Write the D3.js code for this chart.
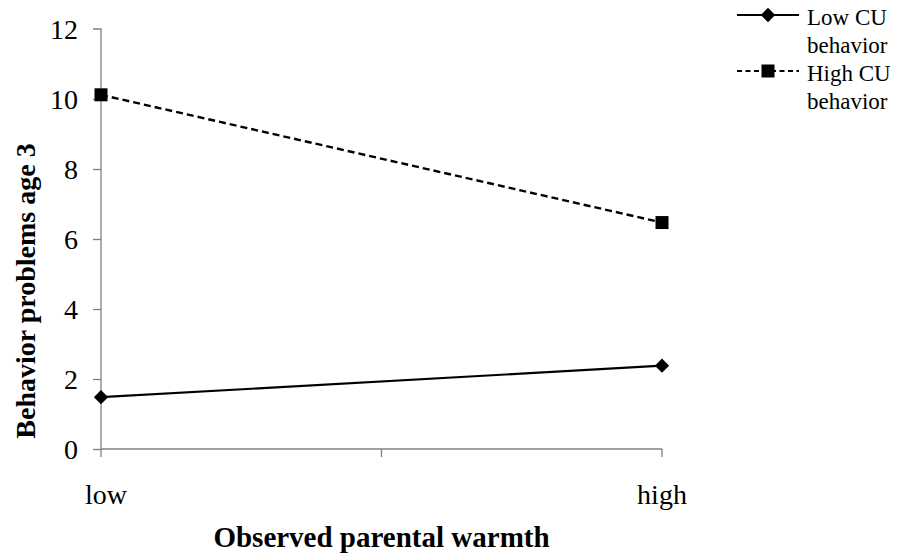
<!DOCTYPE html>
<html>
<head>
<meta charset="utf-8">
<script src="https://cdn.jsdelivr.net/npm/d3@7"></script>
<style>
  body { margin: 0; background: #fff; }
  text { font-family: "Liberation Serif", "Times New Roman", serif; fill: #000; }
</style>
</head>
<body>
<div class="chart"></div>
<script>
// data
var categories = ["low", "high"];
var lowCU = [1.48, 2.38];
var highCU = [10.12, 6.47];
var yTicks = [0, 2, 4, 6, 8, 10, 12];
var seriesNames = [["Low CU", "behavior"], ["High CU", "behavior"]];

var svgWidth = 898;
var svgHeight = 558;

var margin = { top: 29, left: 101 };
var width = 561;
var height = 420;

var svg = d3.select(".chart")
  .append("svg")
  .attr("width", svgWidth)
  .attr("height", svgHeight);

var chartGroup = svg.append("g")
  .attr("transform", `translate(${margin.left}, ${margin.top})`);

// scales
var xScale = d3.scalePoint()
  .domain(categories)
  .range([0, width]);

var yScale = d3.scaleLinear()
  .domain([0, 12])
  .range([height, 0]);

// y axis
var yAxis = d3.axisLeft(yScale).tickValues(yTicks).tickSize(8).tickPadding(15);
var yG = chartGroup.append("g").call(yAxis);
yG.attr("font-family", null).attr("font-size", null);
yG.select(".domain").attr("stroke", "#808080").attr("stroke-width", 1.3)
  .attr("d", `M0,${height}V0H-8`);
yG.selectAll(".tick line").attr("stroke", "#808080").attr("stroke-width", 1.3);
yG.selectAll(".tick text")
  .style("font-size", "28px")
  .attr("dy", "0.34em");
yG.selectAll(".tick").filter(d => d === 12).select("line").remove();

// x axis (ticks between categories, as in the original)
var xG = chartGroup.append("g").attr("transform", `translate(0, ${height})`);
xG.append("line")
  .attr("x1", 0).attr("x2", width)
  .attr("stroke", "#808080").attr("stroke-width", 1.3);
xG.selectAll(".xtick")
  .data([0, width / 2, width])
  .enter()
  .append("line")
  .attr("x1", d => d).attr("x2", d => d)
  .attr("y1", 0).attr("y2", 8)
  .attr("stroke", "#808080").attr("stroke-width", 1.3);
xG.selectAll(".xlabel")
  .data(categories)
  .enter()
  .append("text")
  .attr("x", d => xScale(d) + (d === "low" ? 5 : 0))
  .attr("y", 55)
  .attr("text-anchor", "middle")
  .style("font-size", "28px")
  .text(d => d);

// line generator
var line = d3.line()
  .x((d, i) => xScale(categories[i]))
  .y(d => yScale(d));

chartGroup.append("path")
  .datum(lowCU)
  .attr("d", line)
  .attr("fill", "none")
  .attr("stroke", "#000")
  .attr("stroke-width", 2.2);

chartGroup.append("path")
  .datum(highCU)
  .attr("d", line)
  .attr("fill", "none")
  .attr("stroke", "#000")
  .attr("stroke-width", 2.4)
  .attr("stroke-dasharray", "7,4");

var diamond = d3.symbol().type(d3.symbolDiamond2).size(130);
var square = d3.symbol().type(d3.symbolSquare).size(169);

chartGroup.selectAll(".lowpt")
  .data(lowCU)
  .enter()
  .append("path")
  .attr("d", diamond)
  .attr("transform", (d, i) => `translate(${xScale(categories[i])}, ${yScale(d)})`)
  .attr("fill", "#000");

chartGroup.selectAll(".highpt")
  .data(highCU)
  .enter()
  .append("path")
  .attr("d", square)
  .attr("transform", (d, i) => `translate(${xScale(categories[i])}, ${yScale(d)})`)
  .attr("fill", "#000");

// axis titles
svg.append("text")
  .attr("transform", "translate(35, 291) rotate(-90)")
  .attr("text-anchor", "middle")
  .style("font-size", "28px")
  .style("font-weight", "bold")
  .text("Behavior problems age 3");

svg.append("text")
  .attr("x", margin.left + width / 2)
  .attr("y", 547)
  .attr("text-anchor", "middle")
  .style("font-size", "29px")
  .style("font-weight", "bold")
  .text("Observed parental warmth");

// legend
var legend = svg.append("g").attr("transform", "translate(737, 0)");
var legendY = [15, 71];
legendY.forEach(function(y, i) {
  legend.append("line")
    .attr("x1", 0).attr("x2", 62)
    .attr("y1", y).attr("y2", y)
    .attr("stroke", "#000")
    .attr("stroke-width", i === 0 ? 2.2 : 2)
    .attr("stroke-dasharray", i === 0 ? null : "5,3.5");
  legend.append("path")
    .attr("d", i === 0 ? diamond : square)
    .attr("transform", `translate(31, ${y})`)
    .attr("fill", "#000");
  var t = legend.append("text")
    .attr("x", 70)
    .attr("y", y + 10)
    .style("font-size", "23px");
  seriesNames[i].forEach(function(s, j) {
    t.append("tspan")
      .attr("x", 70)
      .attr("dy", j === 0 ? 0 : 28)
      .text(s);
  });
});
</script>
</body>
</html>
